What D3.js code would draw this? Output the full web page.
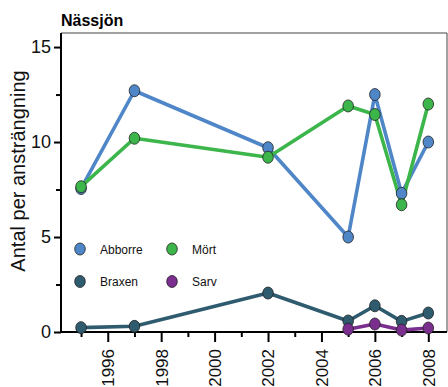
<!DOCTYPE html>
<html>
<head>
<meta charset="utf-8">
<script src="https://cdn.jsdelivr.net/npm/d3@7"></script>
<style>
  html, body { margin: 0; padding: 0; background: #fff; }
  svg { display: block; font-family: "Liberation Sans", Arial, sans-serif; }
</style>
</head>
<body>
<svg id="chart" width="448" height="387"></svg>
<script>
// Catch per unit effort in Nässjön, by species and year
const years = [1995, 1997, 2002, 2005, 2006, 2007, 2008];
const abborre = [7.55, 12.7, 9.7, 5.0, 12.5, 7.3, 10.0];
const mort    = [7.65, 10.2, 9.2, 11.9, 11.45, 6.7, 12.0];
const braxen  = [0.23, 0.3, 2.05, 0.58, 1.38, 0.56, 1.0];
const sarvYears = [2005, 2006, 2007, 2008];
const sarv    = [0.15, 0.42, 0.1, 0.21];

const yTicks = [0, 5, 10, 15];
const yMinorTicks = [2.5, 7.5, 12.5];
const xTicks = [1996, 1998, 2000, 2002, 2004, 2006, 2008];
const xMinorTicks = [1995, 1997, 1999, 2001, 2003, 2005, 2007];

const seriesNames = ["Abborre", "Mört", "Braxen", "Sarv"];
const seriesColors = ["#4f86c8", "#3cb54b", "#2f5b6f", "#7a2e8e"];

const svg = d3.select("#chart");
const plot = { left: 61, top: 33, right: 447, bottom: 332 };

const x = d3.scaleLinear().domain([1994.25, 2008.7]).range([plot.left, plot.right]);
const y = d3.scaleLinear().domain([0, 15.74]).range([plot.bottom, plot.top]);

// frame: thin top/right border
svg.append("path")
  .attr("d", `M${plot.left},${plot.top}H${plot.right}V${plot.bottom}`)
  .attr("fill", "none").attr("stroke", "#444").attr("stroke-width", 1);

// title
svg.append("text").attr("x", 61).attr("y", 26)
  .attr("font-size", 16).attr("font-weight", "bold").attr("fill", "#000")
  .text("Nässjön");

// y axis
const yAxis = svg.append("g").attr("transform", `translate(${plot.left},0)`)
  .call(d3.axisLeft(y).tickValues(yTicks).tickSize(7).tickPadding(3).tickFormat(d3.format("d")));
svg.append("g").attr("transform", `translate(${plot.left},0)`)
  .call(d3.axisLeft(y).tickValues(yMinorTicks).tickSize(5).tickFormat(""))
  .call(g => g.select(".domain").remove())
  .selectAll("line").attr("stroke-width", 2);
yAxis.select(".domain").attr("stroke-width", 2).attr("d", `M0,${plot.top}V${plot.bottom + 1}`);
yAxis.selectAll("line").attr("stroke-width", 2);
yAxis.selectAll("text").attr("font-size", 18).attr("fill", "#111")
  .attr("font-family", "Liberation Sans, Arial, sans-serif");

// x axis
const xAxis = svg.append("g").attr("transform", `translate(0,${plot.bottom})`)
  .call(d3.axisBottom(x).tickValues(xTicks).tickSize(10).tickFormat(d3.format("d")));
svg.append("g").attr("transform", `translate(0,${plot.bottom})`)
  .call(d3.axisBottom(x).tickValues(xMinorTicks).tickSize(5).tickFormat(""))
  .call(g => g.select(".domain").remove())
  .selectAll("line").attr("stroke-width", 2);
xAxis.select(".domain").attr("stroke-width", 2).attr("d", `M${plot.left - 1},0H${plot.right}`);
xAxis.selectAll("line").attr("stroke-width", 2);
xAxis.selectAll("text")
  .attr("font-size", 17).attr("fill", "#111")
  .attr("font-family", "Liberation Sans, Arial, sans-serif")
  .attr("text-anchor", "end")
  .attr("dy", "0.35em")
  .attr("transform", "translate(0,3) rotate(-90)")
  .attr("x", -14).attr("y", 0);

// y label
svg.append("text")
  .attr("transform", `translate(25,171) rotate(-90)`)
  .attr("text-anchor", "middle").attr("font-size", 20).attr("fill", "#111")
  .text("Antal per ansträngning");

const line = d3.line().x(d => x(d[0])).y(d => y(d[1]));
const allSeries = [
  { name: "Abborre", xs: years, ys: abborre, color: seriesColors[0] },
  { name: "Mört", xs: years, ys: mort, color: seriesColors[1] },
  { name: "Braxen", xs: years, ys: braxen, color: seriesColors[2] },
  { name: "Sarv", xs: sarvYears, ys: sarv, color: seriesColors[3] }
];

allSeries.forEach(s => {
  const pts = s.xs.map((yr, i) => [yr, s.ys[i]]);
  svg.append("path").datum(pts)
    .attr("d", line).attr("fill", "none")
    .attr("stroke", s.color).attr("stroke-width", 3.6)
    .attr("stroke-linejoin", "round");
});
allSeries.forEach(s => {
  const pts = s.xs.map((yr, i) => [yr, s.ys[i]]);
  svg.append("g").selectAll("ellipse").data(pts).join("ellipse")
    .attr("cx", d => x(d[0])).attr("cy", d => y(d[1]))
    .attr("rx", 5.3).attr("ry", 6)
    .attr("fill", s.color).attr("stroke", "#222").attr("stroke-width", 0.8);
});

// legend
const legendPos = [[80, 249], [172, 249], [80, 281.5], [172, 281.5]];
seriesNames.forEach((n, i) => {
  const [lx, ly] = legendPos[i];
  svg.append("ellipse").attr("cx", lx).attr("cy", ly).attr("rx", 5.3).attr("ry", 6)
    .attr("fill", seriesColors[i]).attr("stroke", "#222").attr("stroke-width", 0.8);
  svg.append("text").attr("x", lx + 20).attr("y", ly + 4.5)
    .attr("font-size", 12).attr("fill", "#111").text(n);
});
</script>
</body>
</html>
